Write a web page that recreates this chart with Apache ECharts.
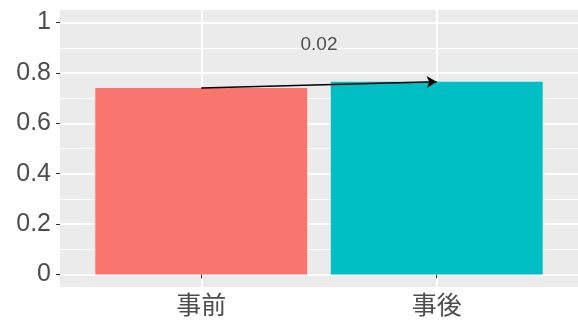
<!DOCTYPE html>
<html>
<head>
<meta charset="utf-8">
<script src="https://cdn.jsdelivr.net/npm/echarts@6/dist/echarts.min.js"></script>
<style>
  html, body { margin: 0; padding: 0; background: #fff; }
  #chart { width: 578px; height: 324px; }
</style>
</head>
<body>
<div id="chart"></div>
<script>
// データ
const categories = ["事前", "事後"];
const values = [0.74, 0.765];
const barColors = ["#F8766D", "#00BFC4"];
const yTicks = [0, 0.2, 0.4, 0.6, 0.8, 1];
const yMinorTicks = [0.1, 0.3, 0.5, 0.7, 0.9];
const xTicks = [1, 2];
const diffLabel = "0.02";
const diffLabelY = 0.91;

const font = "'Liberation Sans', 'Noto Sans CJK JP', sans-serif";

const chart = echarts.init(document.getElementById("chart"), null, { renderer: "canvas" });

const option = {
  animation: false,
  grid: {
    left: 60,
    top: 10,
    width: 522,
    height: 277,
    show: true,
    backgroundColor: "#EBEBEB",
    borderWidth: 0,
  },
  xAxis: {
    type: "value",
    min: 0.4,
    max: 2.6,
    axisLine: { show: false },
    axisTick: {
      customValues: xTicks,
      length: 4,
      lineStyle: { color: "#333333", width: 1 },
    },
    axisLabel: {
      customValues: xTicks,
      formatter: (v) => categories[v - 1],
      color: "#4D4D4D",
      fontSize: 25,
      fontFamily: font,
      margin: 8,
    },
    splitLine: { show: true, lineStyle: { color: "#FFFFFF", width: 2 } },
  },
  yAxis: [
    {
      type: "value",
      min: -0.05,
      max: 1.05,
      axisLine: { show: false },
      axisTick: {
        customValues: yTicks,
        length: 4,
        lineStyle: { color: "#333333", width: 1 },
      },
      axisLabel: {
        customValues: yTicks,
        color: "#4D4D4D",
        fontSize: 25,
        fontFamily: font,
        margin: 9,
      },
      splitLine: { show: true, lineStyle: { color: "#FFFFFF", width: 2 } },
    },
    {
      type: "value",
      min: -0.05,
      max: 1.05,
      axisLine: { show: false },
      axisTick: { show: false, customValues: yMinorTicks },
      axisLabel: { show: false, customValues: yMinorTicks },
      splitLine: { show: true, lineStyle: { color: "#FFFFFF", width: 1 } },
    },
  ],
  series: [
    {
      type: "bar",
      barWidth: "90%",
      data: categories.map((c, i) => ({
        value: [i + 1, values[i]],
        itemStyle: { color: barColors[i] },
      })),
      markLine: {
        silent: true,
        symbol: ["none", "arrow"],
        symbolSize: [9, 10],
        label: { show: false },
        lineStyle: { color: "#000000", width: 1.5, type: "solid" },
        data: [
          [
            { coord: [1, values[0]] },
            { coord: [2, values[1]] },
          ],
        ],
      },
    },
    {
      type: "scatter",
      symbolSize: 0,
      silent: true,
      data: [[1.5, diffLabelY]],
      label: {
        show: true,
        position: "inside",
        formatter: () => diffLabel,
        color: "#262626",
        fontSize: 19,
        fontFamily: font,
      },
    },
  ],
};

chart.setOption(option);
</script>
</body>
</html>
